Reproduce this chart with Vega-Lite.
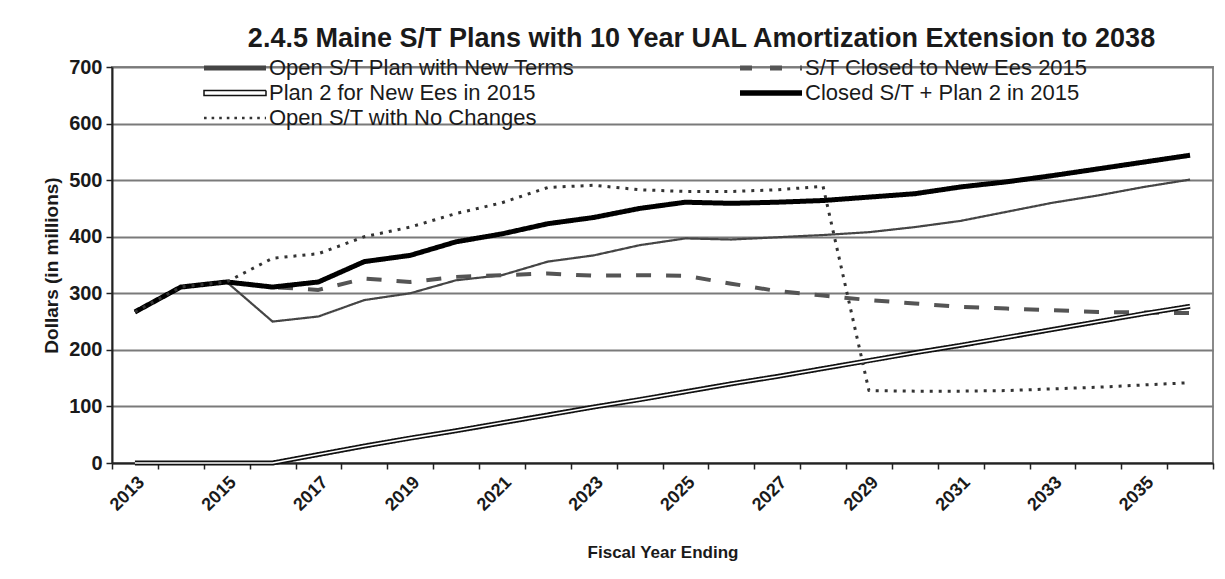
{
  "$schema": "https://vega.github.io/schema/vega-lite/v6.json",
  "width": 1101,
  "height": 396,
  "autosize": {"type": "none"},
  "padding": {"left": 112, "top": 67, "right": 12, "bottom": 116},
  "background": "white",
  "title": {
    "text": "2.4.5 Maine S/T Plans with 10 Year UAL Amortization  Extension to 2038",
    "font": "Liberation Sans",
    "fontSize": 27,
    "fontWeight": "bold",
    "color": "#1a1a1a",
    "anchor": "middle",
    "dx": 39,
    "offset": 4
  },
  "config": {
    "font": "Liberation Sans",
    "view": {"stroke": "#8a8a8a", "strokeWidth": 2}
  },
  "datasets": {
    "plans": [
      {"year": 2013, "series": "Open S/T Plan with New Terms", "value": 267},
      {"year": 2014, "series": "Open S/T Plan with New Terms", "value": 311},
      {"year": 2015, "series": "Open S/T Plan with New Terms", "value": 320},
      {"year": 2016, "series": "Open S/T Plan with New Terms", "value": 250},
      {"year": 2017, "series": "Open S/T Plan with New Terms", "value": 259},
      {"year": 2018, "series": "Open S/T Plan with New Terms", "value": 288},
      {"year": 2019, "series": "Open S/T Plan with New Terms", "value": 300},
      {"year": 2020, "series": "Open S/T Plan with New Terms", "value": 323},
      {"year": 2021, "series": "Open S/T Plan with New Terms", "value": 332},
      {"year": 2022, "series": "Open S/T Plan with New Terms", "value": 356},
      {"year": 2023, "series": "Open S/T Plan with New Terms", "value": 367},
      {"year": 2024, "series": "Open S/T Plan with New Terms", "value": 385},
      {"year": 2025, "series": "Open S/T Plan with New Terms", "value": 397},
      {"year": 2026, "series": "Open S/T Plan with New Terms", "value": 395},
      {"year": 2027, "series": "Open S/T Plan with New Terms", "value": 399},
      {"year": 2028, "series": "Open S/T Plan with New Terms", "value": 403},
      {"year": 2029, "series": "Open S/T Plan with New Terms", "value": 408},
      {"year": 2030, "series": "Open S/T Plan with New Terms", "value": 417},
      {"year": 2031, "series": "Open S/T Plan with New Terms", "value": 428},
      {"year": 2032, "series": "Open S/T Plan with New Terms", "value": 444},
      {"year": 2033, "series": "Open S/T Plan with New Terms", "value": 460},
      {"year": 2034, "series": "Open S/T Plan with New Terms", "value": 473},
      {"year": 2035, "series": "Open S/T Plan with New Terms", "value": 488},
      {"year": 2036, "series": "Open S/T Plan with New Terms", "value": 501},

      {"year": 2013, "series": "S/T Closed to New  Ees 2015", "value": 267},
      {"year": 2014, "series": "S/T Closed to New  Ees 2015", "value": 311},
      {"year": 2015, "series": "S/T Closed to New  Ees 2015", "value": 320},
      {"year": 2016, "series": "S/T Closed to New  Ees 2015", "value": 311},
      {"year": 2017, "series": "S/T Closed to New  Ees 2015", "value": 306},
      {"year": 2018, "series": "S/T Closed to New  Ees 2015", "value": 326},
      {"year": 2019, "series": "S/T Closed to New  Ees 2015", "value": 320},
      {"year": 2020, "series": "S/T Closed to New  Ees 2015", "value": 329},
      {"year": 2021, "series": "S/T Closed to New  Ees 2015", "value": 332},
      {"year": 2022, "series": "S/T Closed to New  Ees 2015", "value": 335},
      {"year": 2023, "series": "S/T Closed to New  Ees 2015", "value": 331},
      {"year": 2024, "series": "S/T Closed to New  Ees 2015", "value": 332},
      {"year": 2025, "series": "S/T Closed to New  Ees 2015", "value": 331},
      {"year": 2026, "series": "S/T Closed to New  Ees 2015", "value": 317},
      {"year": 2027, "series": "S/T Closed to New  Ees 2015", "value": 304},
      {"year": 2028, "series": "S/T Closed to New  Ees 2015", "value": 296},
      {"year": 2029, "series": "S/T Closed to New  Ees 2015", "value": 288},
      {"year": 2030, "series": "S/T Closed to New  Ees 2015", "value": 282},
      {"year": 2031, "series": "S/T Closed to New  Ees 2015", "value": 276},
      {"year": 2032, "series": "S/T Closed to New  Ees 2015", "value": 273},
      {"year": 2033, "series": "S/T Closed to New  Ees 2015", "value": 270},
      {"year": 2034, "series": "S/T Closed to New  Ees 2015", "value": 267},
      {"year": 2035, "series": "S/T Closed to New  Ees 2015", "value": 266},
      {"year": 2036, "series": "S/T Closed to New  Ees 2015", "value": 265},

      {"year": 2013, "series": "Plan 2 for New Ees in 2015", "value": 0},
      {"year": 2014, "series": "Plan 2 for New Ees in 2015", "value": 0},
      {"year": 2015, "series": "Plan 2 for New Ees in 2015", "value": 0},
      {"year": 2016, "series": "Plan 2 for New Ees in 2015", "value": 0},
      {"year": 2017, "series": "Plan 2 for New Ees in 2015", "value": 15},
      {"year": 2018, "series": "Plan 2 for New Ees in 2015", "value": 30},
      {"year": 2019, "series": "Plan 2 for New Ees in 2015", "value": 44},
      {"year": 2020, "series": "Plan 2 for New Ees in 2015", "value": 57},
      {"year": 2021, "series": "Plan 2 for New Ees in 2015", "value": 71},
      {"year": 2022, "series": "Plan 2 for New Ees in 2015", "value": 85},
      {"year": 2023, "series": "Plan 2 for New Ees in 2015", "value": 99},
      {"year": 2024, "series": "Plan 2 for New Ees in 2015", "value": 112},
      {"year": 2025, "series": "Plan 2 for New Ees in 2015", "value": 126},
      {"year": 2026, "series": "Plan 2 for New Ees in 2015", "value": 140},
      {"year": 2027, "series": "Plan 2 for New Ees in 2015", "value": 153},
      {"year": 2028, "series": "Plan 2 for New Ees in 2015", "value": 167},
      {"year": 2029, "series": "Plan 2 for New Ees in 2015", "value": 181},
      {"year": 2030, "series": "Plan 2 for New Ees in 2015", "value": 195},
      {"year": 2031, "series": "Plan 2 for New Ees in 2015", "value": 208},
      {"year": 2032, "series": "Plan 2 for New Ees in 2015", "value": 222},
      {"year": 2033, "series": "Plan 2 for New Ees in 2015", "value": 236},
      {"year": 2034, "series": "Plan 2 for New Ees in 2015", "value": 250},
      {"year": 2035, "series": "Plan 2 for New Ees in 2015", "value": 264},
      {"year": 2036, "series": "Plan 2 for New Ees in 2015", "value": 277},

      {"year": 2013, "series": "Closed S/T + Plan 2 in 2015", "value": 267},
      {"year": 2014, "series": "Closed S/T + Plan 2 in 2015", "value": 311},
      {"year": 2015, "series": "Closed S/T + Plan 2 in 2015", "value": 320},
      {"year": 2016, "series": "Closed S/T + Plan 2 in 2015", "value": 311},
      {"year": 2017, "series": "Closed S/T + Plan 2 in 2015", "value": 320},
      {"year": 2018, "series": "Closed S/T + Plan 2 in 2015", "value": 356},
      {"year": 2019, "series": "Closed S/T + Plan 2 in 2015", "value": 367},
      {"year": 2020, "series": "Closed S/T + Plan 2 in 2015", "value": 391},
      {"year": 2021, "series": "Closed S/T + Plan 2 in 2015", "value": 405},
      {"year": 2022, "series": "Closed S/T + Plan 2 in 2015", "value": 423},
      {"year": 2023, "series": "Closed S/T + Plan 2 in 2015", "value": 434},
      {"year": 2024, "series": "Closed S/T + Plan 2 in 2015", "value": 450},
      {"year": 2025, "series": "Closed S/T + Plan 2 in 2015", "value": 461},
      {"year": 2026, "series": "Closed S/T + Plan 2 in 2015", "value": 459},
      {"year": 2027, "series": "Closed S/T + Plan 2 in 2015", "value": 461},
      {"year": 2028, "series": "Closed S/T + Plan 2 in 2015", "value": 464},
      {"year": 2029, "series": "Closed S/T + Plan 2 in 2015", "value": 470},
      {"year": 2030, "series": "Closed S/T + Plan 2 in 2015", "value": 476},
      {"year": 2031, "series": "Closed S/T + Plan 2 in 2015", "value": 488},
      {"year": 2032, "series": "Closed S/T + Plan 2 in 2015", "value": 497},
      {"year": 2033, "series": "Closed S/T + Plan 2 in 2015", "value": 508},
      {"year": 2034, "series": "Closed S/T + Plan 2 in 2015", "value": 520},
      {"year": 2035, "series": "Closed S/T + Plan 2 in 2015", "value": 532},
      {"year": 2036, "series": "Closed S/T + Plan 2 in 2015", "value": 544},

      {"year": 2013, "series": "Open S/T with No Changes", "value": 267},
      {"year": 2014, "series": "Open S/T with No Changes", "value": 311},
      {"year": 2015, "series": "Open S/T with No Changes", "value": 320},
      {"year": 2016, "series": "Open S/T with No Changes", "value": 362},
      {"year": 2017, "series": "Open S/T with No Changes", "value": 370},
      {"year": 2018, "series": "Open S/T with No Changes", "value": 400},
      {"year": 2019, "series": "Open S/T with No Changes", "value": 417},
      {"year": 2020, "series": "Open S/T with No Changes", "value": 441},
      {"year": 2021, "series": "Open S/T with No Changes", "value": 460},
      {"year": 2022, "series": "Open S/T with No Changes", "value": 487},
      {"year": 2023, "series": "Open S/T with No Changes", "value": 491},
      {"year": 2024, "series": "Open S/T with No Changes", "value": 483},
      {"year": 2025, "series": "Open S/T with No Changes", "value": 480},
      {"year": 2026, "series": "Open S/T with No Changes", "value": 480},
      {"year": 2027, "series": "Open S/T with No Changes", "value": 483},
      {"year": 2028, "series": "Open S/T with No Changes", "value": 489},
      {"year": 2029, "series": "Open S/T with No Changes", "value": 128},
      {"year": 2030, "series": "Open S/T with No Changes", "value": 127},
      {"year": 2031, "series": "Open S/T with No Changes", "value": 127},
      {"year": 2032, "series": "Open S/T with No Changes", "value": 128},
      {"year": 2033, "series": "Open S/T with No Changes", "value": 131},
      {"year": 2034, "series": "Open S/T with No Changes", "value": 134},
      {"year": 2035, "series": "Open S/T with No Changes", "value": 138},
      {"year": 2036, "series": "Open S/T with No Changes", "value": 142}
    ]
  },
  "data": {"name": "plans"},
  "encoding": {
    "x": {
      "field": "year",
      "type": "ordinal",
      "bandPosition": 0.5,
      "scale": {"type": "band", "paddingInner": 0, "paddingOuter": 0},
      "axis": {
        "title": "Fiscal Year Ending",
        "titleFont": "Liberation Sans",
        "titleFontSize": 17,
        "titleFontWeight": "bold",
        "titleColor": "#1a1a1a",
        "titlePadding": 30,
        "labelExpr": "datum.value % 2 == 1 ? datum.label : ''",
        "labelAngle": -45,
        "labelFontSize": 18,
        "labelFontWeight": "bold",
        "labelColor": "#1a1a1a",
        "labelPadding": 4,
        "labelOverlap": false,
        "tickBand": "extent",
        "tickSize": 6,
        "tickColor": "#222",
        "tickWidth": 1.5,
        "domainColor": "#222",
        "domainWidth": 2,
        "grid": false
      }
    },
    "y": {
      "field": "value",
      "type": "quantitative",
      "scale": {"domain": [0, 700], "nice": false},
      "axis": {
        "title": "Dollars (in millions)",
        "titleFont": "Liberation Sans",
        "titleFontSize": 19,
        "titleFontWeight": "bold",
        "titleColor": "#1a1a1a",
        "titlePadding": 7,
        "values": [0, 100, 200, 300, 400, 500, 600, 700],
        "labelFontSize": 20,
        "labelFontWeight": "bold",
        "labelColor": "#1a1a1a",
        "labelPadding": 4,
        "tickSize": 6,
        "tickColor": "#222",
        "tickWidth": 1.5,
        "domainColor": "#222",
        "domainWidth": 2,
        "grid": true,
        "gridColor": "#7a7a7a",
        "gridWidth": 2
      }
    }
  },
  "layer": [
    {
      "mark": {"type": "line", "strokeCap": "butt", "strokeJoin": "round"},
      "encoding": {
        "color": {
          "field": "series",
          "type": "nominal",
          "sort": null,
          "scale": {
            "domain": ["Open S/T Plan with New Terms", "Plan 2 for New Ees in 2015", "Open S/T with No Changes", "S/T Closed to New  Ees 2015", "Closed S/T + Plan 2 in 2015"],
            "range": ["#454545", "#111111", "#333333", "#555555", "#000000"]
          },
          "legend": {
            "title": null,
            "orient": "none",
            "legendX": 112,
            "legendY": -10,
            "direction": "vertical",
            "columns": 2,
            "columnPadding": 154,
            "rowPadding": 3,
            "symbolType": "stroke",
            "symbolSize": 3844,
            "labelFont": "Liberation Sans",
            "labelFontSize": 22,
            "labelColor": "#1a1a1a",
            "labelOffset": 23,
            "labelLimit": 600,
            "encode": {
              "symbols": {
                "update": {
                  "shape": {"signal": "datum.value === 'Plan 2 for New Ees in 2015' ? 'M-1,-0.08L1,-0.08L1,0.08L-1,0.08Z' : 'stroke'"},
                  "fill": {"signal": "datum.value === 'Plan 2 for New Ees in 2015' ? '#ffffff' : 'transparent'"},
                  "stroke": {"signal": "datum.value === 'Open S/T Plan with New Terms' ? '#454545' : datum.value === 'S/T Closed to New  Ees 2015' ? '#555555' : datum.value === 'Open S/T with No Changes' ? '#333333' : '#000000'"},
                  "strokeWidth": {"signal": "datum.value === 'Open S/T Plan with New Terms' ? 5 : datum.value === 'S/T Closed to New  Ees 2015' ? 5 : datum.value === 'Plan 2 for New Ees in 2015' ? 1.5 : datum.value === 'Closed S/T + Plan 2 in 2015' ? 5.5 : 2.6"},
                  "strokeDash": {"signal": "datum.value === 'S/T Closed to New  Ees 2015' ? [12, 18] : datum.value === 'Open S/T with No Changes' ? [2.6, 5] : [1, 0]"},
                  "strokeCap": {"value": "butt"},
                  "opacity": {"value": 1}
                }
              }
            }
          }
        },
        "strokeWidth": {
          "condition": [
            {"test": "datum.series === 'Open S/T Plan with New Terms'", "value": 2.2},
            {"test": "datum.series === 'S/T Closed to New  Ees 2015'", "value": 4},
            {"test": "datum.series === 'Plan 2 for New Ees in 2015'", "value": 5},
            {"test": "datum.series === 'Closed S/T + Plan 2 in 2015'", "value": 5}
          ],
          "value": 3
        },
        "strokeDash": {
          "condition": [
            {"test": "datum.series === 'S/T Closed to New  Ees 2015'", "value": [15, 15]},
            {"test": "datum.series === 'Open S/T with No Changes'", "value": [3, 6]}
          ],
          "value": [1, 0]
        }
      }
    },
    {
      "transform": [{"filter": "datum.series === 'Plan 2 for New Ees in 2015'"}],
      "mark": {"type": "line", "color": "#ffffff", "strokeWidth": 1.6, "strokeJoin": "round"},
      "encoding": {}
    }
  ]
}
